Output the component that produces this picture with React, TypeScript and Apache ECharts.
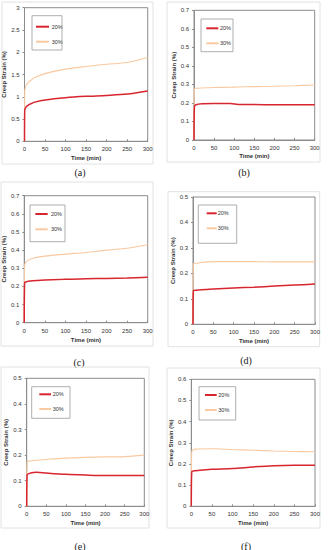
import React, { useEffect, useRef } from "react";
import * as echarts from "echarts";

// ---------- data ----------
const xTicks = [0, 50, 100, 150, 200, 250, 300];
const seriesNames = ["20%", "30%"];
const captions = ["(a)", "(b)", "(c)", "(d)", "(e)", "(f)"];
const yMaxes = [3, 0.7, 0.7, 0.5, 0.5, 0.6];
const ySteps = [0.5, 0.1, 0.1, 0.1, 0.1, 0.1];

const timeA = [0, 0.5, 2, 5, 10, 17, 25, 50, 100, 150, 200, 250, 300];
const a20 = [0, 0.7, 0.74, 0.78, 0.82, 0.85, 0.88, 0.93, 0.98, 1.01, 1.03, 1.06, 1.13];
const a30 = [0, 1.12, 1.2, 1.27, 1.33, 1.38, 1.43, 1.52, 1.62, 1.68, 1.73, 1.77, 1.88];

const timeB = [0, 1, 5, 20, 50, 90, 110, 150, 200, 250, 300];
const b20 = [0, 0.18, 0.19, 0.195, 0.197, 0.197, 0.192, 0.191, 0.19, 0.19, 0.19];
const b30 = [0, 0.275, 0.279, 0.281, 0.283, 0.285, 0.286, 0.288, 0.29, 0.293, 0.297];

const timeC = [0, 1, 5, 10, 20, 50, 100, 150, 200, 250, 300];
const c20 = [0, 0.22, 0.225, 0.228, 0.231, 0.235, 0.24, 0.242, 0.244, 0.246, 0.25];
const c30 = [0, 0.32, 0.335, 0.345, 0.355, 0.367, 0.378, 0.387, 0.4, 0.41, 0.43];

const timeD = [0, 1, 10, 20, 50, 100, 150, 200, 250, 300];
const d20 = [0, 0.132, 0.134, 0.136, 0.139, 0.143, 0.146, 0.15, 0.154, 0.158];
const d30 = [0, 0.237, 0.24, 0.243, 0.246, 0.246, 0.246, 0.245, 0.245, 0.245];

const timeE = [0, 1, 10, 25, 50, 100, 150, 200, 250, 300];
const e20 = [0, 0.122, 0.13, 0.133, 0.13, 0.125, 0.122, 0.12, 0.12, 0.12];
const e30 = [0, 0.174, 0.177, 0.18, 0.183, 0.188, 0.191, 0.193, 0.194, 0.2];

const timeF = [0, 1, 10, 50, 100, 150, 200, 250, 300];
const f20 = [0, 0.162, 0.168, 0.175, 0.178, 0.186, 0.192, 0.194, 0.194];
const f30 = [0, 0.258, 0.27, 0.272, 0.268, 0.265, 0.261, 0.259, 0.258];

const times = [timeA, timeB, timeC, timeD, timeE, timeF];
const values20 = [a20, b20, c20, d20, e20, f20];
const values30 = [a30, b30, c30, d30, e30, f30];

// ---------- layout ----------
type Layout = {
  grid: [number, number, number, number]; // left, top, width, height
  box: [number, number, number, number];
  lg: { box: [number, number, number, number]; l0: number; l1: number; tx: number; r1: number; r2: number };
  cap: [number, number];
  yGap: number;
  xGap: number;
};

const layouts: Layout[] = [
  { grid: [24.5, 7.7, 123.2, 133.6], box: [2, 2, 151, 162], lg: { box: [32, 15.7, 30, 34.3], l0: 35, l1: 48, tx: 50.7, r1: 26.7, r2: 41.7 }, cap: [80, 172], yGap: 13.5, xGap: 14 },
  { grid: [194, 10.3, 120.7, 129.7], box: [167, 2, 153, 160], lg: { box: [201, 19, 32, 32.7], l0: 205.3, l1: 217.3, tx: 219, r1: 28.3, r2: 43.3 }, cap: [244, 172], yGap: 13.5, xGap: 12.5 },
  { grid: [23.3, 195.7, 124.4, 127], box: [1, 182, 152, 164], lg: { box: [30, 205, 35, 36.7], l0: 34.3, l1: 46.7, tx: 50, r1: 214, r2: 229.3 }, cap: [79, 362], yGap: 9.5, xGap: 14 },
  { grid: [193, 197, 122, 127.3], box: [168, 191.7, 151.7, 155], lg: { box: [198.3, 205, 38.4, 38.3], l0: 205.7, l1: 215.7, tx: 216.7, r1: 213.3, r2: 228.3 }, cap: [246, 360], yGap: 12, xGap: 14 },
  { grid: [26.7, 378.3, 117.6, 128], box: [1, 367, 148, 161], lg: { box: [31.7, 386.7, 38.3, 31.6], l0: 38.3, l1: 50, tx: 51.7, r1: 394.3, r2: 409 }, cap: [80, 546], yGap: 13, xGap: 14 },
  { grid: [191.3, 379.3, 123.7, 127], box: [167, 368, 153, 160], lg: { box: [199, 386.7, 36.7, 33.3], l0: 204, l1: 215.7, tx: 217.3, r1: 395, r2: 410 }, cap: [246, 546], yGap: 13.5, xGap: 14 },
];

const RED = "#d8262f";
const ORANGE = "#f9c9a0";
const AXIS = "#8c8c8c";
const TXT = "#333333";
const FONT = "Liberation Sans";

function buildOption() {
  const grids: any[] = [];
  const xAxes: any[] = [];
  const yAxes: any[] = [];
  const series: any[] = [];
  const legends: any[] = [];
  const graphics: any[] = [];

  layouts.forEach((L, i) => {
    const [gl, gt, gw, gh] = L.grid;
    grids.push({ left: gl, top: gt, width: gw, height: gh, show: true, borderColor: AXIS, borderWidth: 1, backgroundColor: "transparent" });
    xAxes.push({
      gridIndex: i,
      type: "value",
      min: xTicks[0],
      max: xTicks[xTicks.length - 1],
      interval: xTicks[1] - xTicks[0],
      name: "Time (min)",
      nameLocation: "middle",
      nameGap: L.xGap,
      nameTextStyle: { fontFamily: FONT, fontSize: 6, fontWeight: "bold", color: TXT },
      axisLine: { show: true, lineStyle: { color: AXIS, width: 1 } },
      axisTick: { show: true, inside: true, length: 2, lineStyle: { color: AXIS } },
      axisLabel: { fontFamily: FONT, fontSize: 6, color: TXT, margin: 5 },
      splitLine: { show: false },
    });
    yAxes.push({
      gridIndex: i,
      type: "value",
      min: 0,
      max: yMaxes[i],
      interval: ySteps[i],
      name: "Creep Strain (%)",
      nameLocation: "middle",
      nameGap: L.yGap,
      nameTextStyle: { fontFamily: FONT, fontSize: 6, fontWeight: "bold", color: TXT },
      axisLine: { show: true, lineStyle: { color: AXIS, width: 1 } },
      axisTick: { show: true, inside: false, length: 2, lineStyle: { color: AXIS } },
      axisLabel: { fontFamily: FONT, fontSize: 6, color: TXT, margin: 5 },
      splitLine: { show: false },
    });
    const t = times[i];
    series.push({
      name: seriesNames[1],
      type: "line",
      xAxisIndex: i,
      yAxisIndex: i,
      symbol: "none",
      smooth: 0.3,
      z: 2,
      lineStyle: { color: ORANGE, width: 1.1 },
      itemStyle: { color: ORANGE },
      data: t.map((x, k) => [x, values30[i][k]]),
    });
    series.push({
      name: seriesNames[0],
      type: "line",
      xAxisIndex: i,
      yAxisIndex: i,
      symbol: "none",
      smooth: 0.3,
      z: 3,
      lineStyle: { color: RED, width: 1.5 },
      itemStyle: { color: RED },
      data: t.map((x, k) => [x, values20[i][k]]),
    });
    const lg = L.lg;
    const itemH = 6;
    legends.push({
      show: true,
      orient: "vertical",
      left: lg.l0,
      top: lg.r1 - itemH / 2,
      padding: 0,
      itemGap: lg.r2 - lg.r1 - itemH,
      itemWidth: lg.l1 - lg.l0,
      itemHeight: itemH,
      data: seriesNames,
      selectedMode: false,
      itemStyle: { opacity: 0 },
      textStyle: { fontFamily: FONT, fontSize: 5.5, color: TXT, padding: [0, 0, 0, lg.tx - lg.l1 - 5] },
    });
    graphics.push({
      type: "rect",
      shape: { x: L.box[0], y: L.box[1], width: L.box[2], height: L.box[3] },
      style: { fill: "none", stroke: "#e2e2e2", lineWidth: 1 },
      silent: true,
    });
    graphics.push({
      type: "rect",
      shape: { x: lg.box[0], y: lg.box[1], width: lg.box[2], height: lg.box[3] },
      style: { fill: "none", stroke: "#9a9a9a", lineWidth: 0.8 },
      silent: true,
      z: 10,
    });
    graphics.push({
      type: "text",
      x: L.cap[0],
      y: L.cap[1],
      style: { text: captions[i], font: "10px 'Liberation Serif'", fill: "#222", textAlign: "center", textVerticalAlign: "middle" },
      silent: true,
    });
  });

  return {
    animation: false,
    backgroundColor: "#ffffff",
    grid: grids,
    xAxis: xAxes,
    yAxis: yAxes,
    legend: legends,
    series,
    graphic: graphics,
  };
}

export default function App() {
  const ref = useRef<HTMLDivElement>(null);
  useEffect(() => {
    if (!ref.current) return;
    const chart = echarts.init(ref.current, undefined, { renderer: "svg" });
    chart.setOption(buildOption() as any);
    return () => chart.dispose();
  }, []);
  return <div ref={ref} style={{ position: "absolute", left: 0, top: 0, width: 329, height: 550, background: "#fff" }} />;
}
